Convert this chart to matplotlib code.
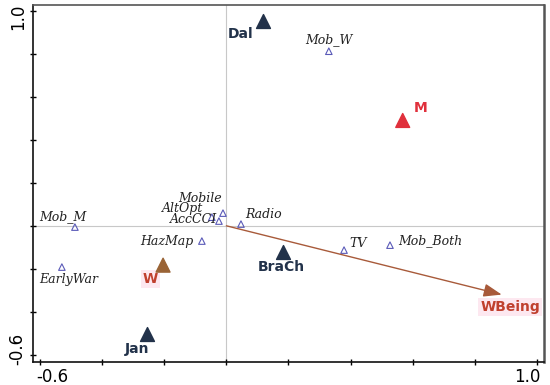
import matplotlib.pyplot as plt
from matplotlib.transforms import ScaledTranslation

# passive variables (small open triangles)
var_names = ["Mob_W", "Mob_M", "Mobile", "AltOpt", "AccCCI", "Radio", "HazMap",
             "EarlyWar", "TV", "Mob_Both"]
var_x = [0.33, -0.488, -0.011, -0.047, -0.024, 0.047, -0.079, -0.53, 0.379, 0.527]
var_y = [0.812, -0.006, 0.059, 0.040, 0.022, 0.008, -0.071, -0.192, -0.113, -0.090]

# sites
site_names = ["Dal", "Jan", "BraCh"]
site_x = [0.117, -0.256, 0.182]
site_y = [0.952, -0.504, -0.122]

# gender
sex_names = ["M", "W"]
sex_x = [0.568, -0.204]
sex_y = [0.490, -0.183]

# response arrow
arrow_name = "WBeing"
arrow_x = 0.887
arrow_y = -0.320

fig = plt.figure(figsize=(5.5, 3.85), dpi=100)
ax = fig.add_axes([0.06, 0.06, 0.929, 0.927])
ax.set_xlim(-0.623, 1.023)
ax.set_ylim(-0.633, 1.027)

ax.axhline(0, color="#c8c8c8", lw=0.8, zorder=0)
ax.axvline(0, color="#c8c8c8", lw=0.8, zorder=0)

serif = dict(family="DejaVu Serif", style="italic", fontsize=9, color="#222222")
bold = dict(family="DejaVu Sans", fontweight="bold", fontsize=10)
navy = "#22324a"

ax.scatter(var_x, var_y, marker="^", s=22, facecolors="none",
           edgecolors="#5a5ab8", linewidths=0.8, zorder=3)

# label offsets (points)
offs = {"Mob_W": (0, 4, "center", "bottom"),
        "Mob_M": (-9, 3, "center", "bottom"),
        "Mobile": (-1, 6, "right", "bottom"),
        "AltOpt": (-6, 1.5, "right", "bottom"),
        "AccCCI": (-1, -3.5, "right", "bottom"),
        "Radio": (3, 2, "left", "bottom"),
        "HazMap": (-6, 0, "right", "center"),
        "EarlyWar": (5, -4, "center", "top"),
        "TV": (4, 5, "left", "center"),
        "Mob_Both": (6, 3, "left", "center")}
for n, x, y in zip(var_names, var_x, var_y):
    dx, dy, ha, va = offs[n]
    ax.annotate(n, (x, y), xytext=(dx, dy), textcoords="offset points",
                ha=ha, va=va, **serif)

ax.scatter(site_x, site_y, marker="^", s=100, color=navy, zorder=4)
site_offs = {"Dal": (-16, -4, "center", "top"),
             "Jan": (-7, -6, "center", "top"),
             "BraCh": (-1, -6, "center", "top")}
for n, x, y in zip(site_names, site_x, site_y):
    dx, dy, ha, va = site_offs[n]
    ax.annotate(n, (x, y), xytext=(dx, dy), textcoords="offset points",
                ha=ha, va=va, color=navy, **bold)

sex_colors = ["#e0303c", "#9a6436"]
ax.scatter(sex_x, sex_y, marker="^", s=100, color=sex_colors, zorder=4)
ax.annotate("M", (sex_x[0], sex_y[0]), xytext=(8, 4), textcoords="offset points",
            ha="left", va="bottom", color="#e0303c", **bold)
ax.annotate("W", (sex_x[1], sex_y[1]), xytext=(-9, -5), textcoords="offset points",
            ha="center", va="top", color="#c0402e",
            bbox=dict(boxstyle="square,pad=0.15", fc="#fde8f0", ec="none"), **bold)

ax.annotate("", xy=(arrow_x, arrow_y), xytext=(0, 0),
            arrowprops=dict(arrowstyle="-|>,head_length=1.1,head_width=0.4",
                            color="#a85a3a", lw=1.0, shrinkA=0, shrinkB=0))
ax.annotate(arrow_name, (arrow_x, arrow_y), xytext=(6, -4), textcoords="offset points",
            ha="center", va="top", color="#c0402e",
            bbox=dict(boxstyle="square,pad=0.15", fc="#fde8f0", ec="none"), **bold)

xt = [-0.6, -0.4, -0.2, 0.0, 0.2, 0.4, 0.6, 0.8, 1.0]
yt = [-0.6, -0.4, -0.2, 0.0, 0.2, 0.4, 0.6, 0.8, 1.0]
ax.set_xticks(xt)
ax.set_xticklabels(["-0.6", "", "", "", "", "", "", "", "1.0"])
ax.set_yticks(yt)
ax.set_yticklabels(["-0.6", "", "", "", "", "", "", "", "1.0"], rotation=90,
                   va="center")
ax.tick_params(direction="inout", length=5, width=1, labelsize=12, pad=2)

# keep the end labels inside the figure, as in the original
xl = ax.get_xticklabels()
xl[0].set_transform(xl[0].get_transform() + ScaledTranslation(12 / 100, 0, fig.dpi_scale_trans))
xl[-1].set_transform(xl[-1].get_transform() + ScaledTranslation(-9 / 100, 0, fig.dpi_scale_trans))
yl = ax.get_yticklabels()
yl[0].set_transform(yl[0].get_transform() + ScaledTranslation(0, 6 / 100, fig.dpi_scale_trans))
yl[-1].set_transform(yl[-1].get_transform() + ScaledTranslation(0, -6 / 100, fig.dpi_scale_trans))

for sp in ax.spines.values():
    sp.set_linewidth(1.2)
    sp.set_color("#555555")
ax.spines["left"].set_color("#111111")
ax.spines["bottom"].set_color("#111111")
ax.spines["right"].set_linewidth(1.8)

fig.savefig("out.png", dpi=100)
